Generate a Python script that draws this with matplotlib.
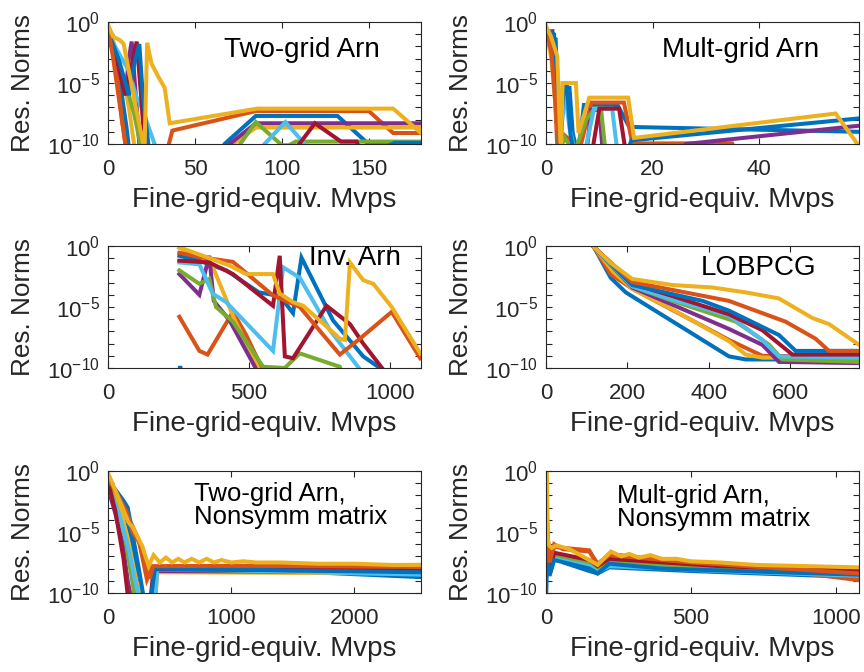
import matplotlib
matplotlib.use("Agg")
import matplotlib.pyplot as plt
from matplotlib.ticker import FixedLocator, NullFormatter
from cycler import cycler

# MATLAB default line colours, 10 eigenvalues per panel
colors = ["#0072BD", "#D95319", "#EDB120", "#7E2F8E", "#77AC30",
          "#4DBEEE", "#A2142F", "#0072BD", "#D95319", "#EDB120"]

# residual norms given as log10 values

# Two-grid Arn
p1_x = [
    [0, 4, 8, 11, 14, 60, 67, 85, 132, 149, 180],
    [0, 4, 8, 11, 15, 33, 35, 37, 85, 150, 164, 180],
    [0, 4, 8, 12, 15, 20, 60, 72, 85, 180],
    [0, 5, 10, 12, 13.6, 16, 19, 62, 70, 85, 180],
    [0, 5, 10, 15, 20, 70, 76, 85, 100, 104, 108, 180],
    [0, 6, 12, 16, 19.4, 28, 80, 90, 102, 115, 160, 165, 180],
    [0, 5, 10, 13, 16.5, 19, 22, 100, 110, 119, 134, 143, 146],
    [0, 6, 12, 15, 18, 20, 24, 150, 160, 165, 180],
    [0, 3, 6, 9, 12],
    [0, 3, 7, 9, 12, 16, 21, 22.5, 25, 29, 32.6, 35.5, 85.7, 164, 180],
]
p1_y = [
    [-0.6, -2.5, -6, -9, -13, -13, -10, -7.7, -7.7, -9.9, -9.9],
    [-0.3, -3, -8, -11, -13, -13, -10, -8.9, -7.3, -7.3, -9.1, -9.1],
    [-0.2, -2, -4, -7, -10, -13, -13, -10, -8.65, -8.65],
    [-1, -3, -6, -3, -1.6, -6, -12, -13, -10, -8.3, -8.3],
    [-1.2, -3, -5, -7.5, -11, -12, -10, -8.2, -10.1, -10.1, -9.8, -9.8],
    [-1, -2.5, -4, -6, -7, -10.5, -12, -10, -8.2, -10.3, -10.3, -9.9, -9.9],
    [-0.8, -3, -6, -4, -1.6, -6, -12, -12, -10, -8.3, -9.8, -9.8, -11],
    [-0.8, -3, -6, -3.5, -1.8, -6, -11, -12, -10.2, -9.9, -9.9],
    [-0.4, -3, -6, -9, -12],
    [-0.25, -1.2, -1.5, -1.8, -4, -7, -10.5, -1.7, -3.4, -4.5, -5.4, -8.3, -7.1, -7.1, -9.1],
]

# Mult-grid Arn
p2_x = [
    [0, 1.8, 2.6, 3.4, 4.4, 5.0, 6.0, 7.1, 13.4, 15.6, 58.7],
    [0, 1.2, 2.2, 3.5, 4.5, 5.2, 6.0, 8.5, 14.6, 16.2, 34.9, 36],
    [0, 1, 2, 3],
    [0, 1.2, 2.2, 3.0, 7.5, 8.5, 10.0, 10.6, 25, 26.2, 58.7],
    [0, 1.5, 2.5, 3.5, 4.4, 5.5, 7.5, 9.1, 10.3, 11.0, 12],
    [0, 1.5, 2.5, 3.6, 4.4, 5.2, 7.5, 9.0, 12.4, 13.2, 14],
    [0, 1.3, 2.2, 3.0, 8.5, 10.0, 13.7, 14.7, 15.5],
    [0, 1.5, 2.4, 3.4, 3.9, 4.6, 5.4, 15, 16, 58.7],
    [0, 1, 2, 3],
    [0, 0.9, 2.1, 2.8, 3.1, 5.6, 6.1, 8.1, 15.4, 16.5, 54.3, 58.4],
]
p2_y = [
    [-0.9, -1.4, -11, -5.4, -5.4, -9.1, -11, -6.8, -6.8, -8.6, -9.0],
    [-0.5, -2, -11, -9.3, -9.7, -10.5, -11, -6.6, -6.6, -9.95, -9.95, -11],
    [-0.6, -3, -8, -12],
    [-0.8, -0.75, -6, -11, -11, -7.2, -7.2, -10.5, -11, -10, -8.5],
    [-1, -3, -10.5, -9.5, -10.1, -10.5, -8, -7.1, -7.1, -10, -11],
    [-1, -3, -9, -6, -8.7, -10.2, -10.2, -7.1, -7.1, -10, -11],
    [-0.7, -2, -8, -11, -11, -7.1, -7.1, -10, -11],
    [-0.6, -1, -10, -5.2, -5.2, -9.3, -11, -11, -9.7, -7.9],
    [-0.4, -2.5, -8, -12],
    [-0.33, -1.15, -2.8, -11, -5, -5, -9.1, -6.2, -6.2, -9.5, -7.5, -10],
]

# Inv. Arn
p3_x = [
    [253, 324, 420, 535, 609, 656, 686, 739, 798, 905, 958],
    [253, 324, 353, 443, 490, 550],
    [253, 335, 375, 450, 530, 560],
    [253, 324, 359, 375, 431, 521],
    [253, 324, 359, 383, 443, 550, 627, 680, 822, 840],
    [253, 324, 371, 419, 585, 621, 680, 787, 893],
    [253, 359, 443, 585, 609, 627, 656, 775, 858, 905, 975],
    [250, 256, 262],
    [253, 324, 443, 585, 680, 822, 893, 1006, 1107],
    [253, 324, 431, 490, 585, 609, 656, 692, 775, 822, 840, 858, 905, 941, 1006, 1107],
]
p3_y = [
    [-0.8, -1.2, -2.0, -3.8, -4.1, -5.5, -0.95, -3.4, -6.1, -9.05, -9.9],
    [-5.8, -8.6, -8.9, -5.4, -7.3, -10.2],
    [-0.15, -0.95, -1.9, -6.1, -9.9, -11],
    [-2.3, -4.0, -0.8, -4.5, -6.1, -9.9],
    [-2.0, -3.1, -2.7, -5.0, -6.2, -9.9, -10.0, -8.8, -9.9, -11],
    [-1.35, -1.5, -3.9, -4.6, -8.6, -1.75, -2.6, -6.9, -10.1],
    [-1.2, -1.35, -2.3, -4.9, -0.8, -9.05, -9.2, -4.9, -6.4, -8.0, -10.1],
    [-10.5, -9.85, -10.5],
    [-0.55, -0.9, -1.3, -4.05, -5.0, -8.9, -7.6, -5.4, -9.2],
    [-0.1, -0.7, -1.6, -2.3, -2.3, -3.9, -4.6, -4.9, -6.6, -7.6, -7.7, -1.35, -2.8, -3.1, -5.0, -8.8],
]

# LOBPCG
p4_x = [
    [118, 159, 196, 450, 491, 770],
    [118, 159, 212, 450, 532, 770],
    [118, 165, 212, 311, 450, 491, 532, 770],
    [118, 212, 450, 532, 573, 770],
    [118, 212, 311, 467, 549, 581, 770],
    [118, 212, 311, 450, 532, 573, 770],
    [118, 212, 311, 450, 532, 606, 770],
    [118, 212, 385, 450, 573, 614, 770],
    [118, 212, 311, 450, 589, 663, 696, 770],
    [118, 159, 212, 311, 409, 491, 573, 655, 696, 770],
]
p4_y = [
    [-0.1, -2.6, -3.8, -9.05, -9.3, -9.3],
    [-0.1, -2.3, -3.5, -7.7, -9.0, -9.1],
    [-0.1, -2.1, -3.5, -5.2, -7.8, -8.9, -9.15, -9.15],
    [-0.1, -3.4, -6.8, -8.1, -9.5, -9.6],
    [-0.1, -3.3, -4.5, -6.2, -8.1, -9.3, -9.5],
    [-0.1, -3.3, -4.4, -5.7, -7.7, -9.05, -9.15],
    [-0.1, -3.1, -4.1, -5.6, -6.9, -8.9, -8.9],
    [-0.1, -3.2, -4.5, -5.3, -7.3, -8.6, -8.6],
    [-0.1, -2.95, -3.6, -4.5, -6.2, -7.6, -8.6, -8.6],
    [-0.1, -1.4, -2.7, -3.2, -3.4, -3.8, -4.3, -5.9, -6.4, -8.1],
]

# Two-grid Arn, nonsymmetric matrix
p5_x = [
    [0, 126, 200, 260, 370, 389, 1200, 2540],
    [0, 100, 193, 248, 316, 356, 700, 1500, 2540],
    [0, 80, 160, 230, 300, 380, 400, 2540],
    [0, 60, 120, 160, 200, 350, 375, 2540],
    [0, 70, 140, 180, 230, 370, 395, 2540],
    [0, 90, 170, 220, 270, 380, 400, 2540],
    [0, 60, 126, 170, 340, 370, 2540],
    [0, 130, 160, 250, 300, 340, 380, 400, 2540],
    [0, 80, 150, 200, 280, 340, 365, 2540],
    [0, 85, 166, 200, 240, 275, 330, 370, 420, 470, 520, 570, 620, 680,
     740, 800, 860, 920, 1000, 1100, 1200, 1400, 1700, 2000, 2300, 2540],
]
p5_y = [
    [-1.1, -2.8, -6, -11, -11, -7.9, -8.1, -8.7],
    [-0.8, -2.3, -4.4, -5.6, -8.9, -7.9, -7.8, -7.9, -8.0],
    [-0.4, -2.5, -5.5, -9, -11, -11, -8.3, -8.4],
    [-1.4, -3.5, -6, -9, -11, -11, -8.2, -8.3],
    [-1.0, -3, -5.5, -8, -11, -11, -8.1, -8.3],
    [-1.3, -3.5, -6.5, -9, -11, -11, -8.0, -8.5],
    [-0.9, -3.3, -7.2, -11, -11, -8.05, -8.2],
    [-0.7, -2.5, -3, -8, -11, -11, -8.1, -8.0, -8.3],
    [-0.6, -2.0, -3.3, -5.0, -6.3, -8.8, -7.8, -7.7],
    [-0.15, -2.2, -4.2, -4.6, -5.4, -6.1, -7.8, -6.9, -7.5, -7.1, -7.5, -7.2, -7.5,
     -7.2, -7.5, -7.2, -7.5, -7.3, -7.5, -7.4, -7.5, -7.5, -7.6, -7.6, -7.7, -7.7],
]

# Mult-grid Arn, nonsymmetric matrix
p6_x = [
    [0, 3, 10, 20, 28, 60, 149, 178, 218, 500, 1080],
    [0, 5, 12, 28, 57, 149, 178, 218, 400, 724, 1080],
    [0, 5, 12, 28, 100, 178, 218, 500, 1080],
    [0, 5, 12, 28, 150, 178, 218, 600, 1080],
    [0, 5, 12, 28, 150, 178, 218, 700, 1080],
    [0, 5, 12, 28, 150, 178, 218, 600, 1080],
    [0, 5, 12, 28, 150, 178, 218, 600, 1080],
    [0, 5, 12, 28, 150, 178, 218, 400, 800, 1080],
    [0, 5, 12, 28, 57, 149, 178, 218, 500, 1080],
    [0, 3, 6, 11, 20, 35, 80, 149, 178, 224, 260, 287, 320, 360, 400,
     450, 500, 600, 724, 900, 1080],
]
p6_y = [
    [-10.5, -8.1, -8.2, -7.5, -6.9, -7.5, -8.2, -8.4, -7.9, -8.2, -8.7],
    [-1, -5, -7.8, -6.2, -6.3, -6.5, -7.7, -6.8, -7.3, -7.9, -8.95],
    [-1.5, -6, -8.3, -6.8, -7.3, -8.2, -7.6, -7.9, -8.0],
    [-2, -6.5, -8.5, -7.1, -7.7, -8.1, -7.7, -8.1, -8.3],
    [-2, -6, -8.3, -7.0, -7.6, -8.0, -7.5, -8.0, -8.1],
    [-3, -7, -8.4, -7.2, -7.8, -8.3, -7.8, -8.2, -8.6],
    [-1.8, -6, -8.2, -6.7, -7.3, -7.8, -7.2, -7.8, -8.2],
    [-2.5, -7, -8.6, -7.3, -8.0, -8.4, -7.6, -8.0, -8.3, -8.5],
    [-1.2, -5.5, -7.5, -6.0, -6.4, -6.6, -7.6, -6.9, -7.5, -8.4],
    [-0.1, -0.1, -5.6, -6.1, -6.3, -6.1, -6.4, -7.3, -7.7, -6.6, -7.0, -6.8,
     -7.1, -6.9, -7.2, -7.2, -7.4, -7.5, -7.7, -7.8, -7.9],
]

panels = [
    (p1_x, p1_y, 180, [0, 50, 100, 150], "Two-grid Arn"),
    (p2_x, p2_y, 58.7, [0, 20, 40], "Mult-grid Arn"),
    (p3_x, p3_y, 1110, [0, 500, 1000], "Inv. Arn"),
    (p4_x, p4_y, 770, [0, 200, 400, 600], "LOBPCG"),
    (p5_x, p5_y, 2540, [0, 1000, 2000], "Two-grid Arn,\nNonsymm matrix"),
    (p6_x, p6_y, 1080, [0, 500, 1000], "Mult-grid Arn,\nNonsymm matrix"),
]

# where the panel title sits inside the axes
title_pos = [(0.62, 0.77, "center"), (0.62, 0.77, "center"), (0.79, 0.905, "center"),
             (0.68, 0.82, "center"), (0.275, 0.715, "left"), (0.226, 0.70, "left")]
title_size = [20, 20, 20, 20, 18.5, 18.5]

plt.rcParams["font.family"] = ["Liberation Sans", "DejaVu Sans"]
plt.rcParams["mathtext.fontset"] = "custom"
plt.rcParams["mathtext.rm"] = "Liberation Sans"
plt.rcParams["mathtext.it"] = "Liberation Sans:italic"
plt.rcParams["axes.prop_cycle"] = cycler(color=colors)

fig = plt.figure(figsize=(8.64, 6.72), dpi=100)
lefts = [0.125, 0.632]
bottoms = [0.7857, 0.4524, 0.1176]
ink = "#262626"

for i, (xs, ys, xmax, xt, title) in enumerate(panels):
    ax = fig.add_axes([lefts[i % 2], bottoms[i // 2], 0.3623, 0.1815])
    for x, y in zip(xs, ys):
        ax.plot(x, [10.0 ** v for v in y], lw=2.9, solid_joinstyle="miter")
    ax.set_yscale("log")
    ax.set_ylim(1e-10, 1)
    ax.set_xlim(0, xmax)
    ax.set_xticks(xt)
    ax.yaxis.set_major_locator(FixedLocator([1e-10, 1e-5, 1]))
    ax.set_yticklabels([r"$10^{-10}$", r"$10^{-5}$", r"$10^{0}$"])
    ax.yaxis.set_minor_locator(FixedLocator([10.0 ** k for k in range(-9, 0) if k != -5]))
    ax.yaxis.set_minor_formatter(NullFormatter())
    ax.tick_params(which="both", direction="in", top=True, right=True,
                   colors=ink, labelsize=16)
    ax.tick_params(which="both", length=4, width=0.8)
    ax.tick_params(axis="x", pad=10.5)
    ax.tick_params(axis="y", pad=6)
    for s in ax.spines.values():
        s.set_color(ink)
        s.set_linewidth(0.8)
    ax.set_xlabel("Fine-grid-equiv. Mvps", fontsize=20, color=ink, labelpad=5)
    ax.set_ylabel("Res. Norms", fontsize=18.8, color=ink, labelpad=8.5)
    tx, ty, ha = title_pos[i]
    ax.text(tx, ty, title, transform=ax.transAxes, ha=ha, va="center",
            fontsize=title_size[i], linespacing=0.95, color="black")

fig.savefig("out.png", dpi=100)
